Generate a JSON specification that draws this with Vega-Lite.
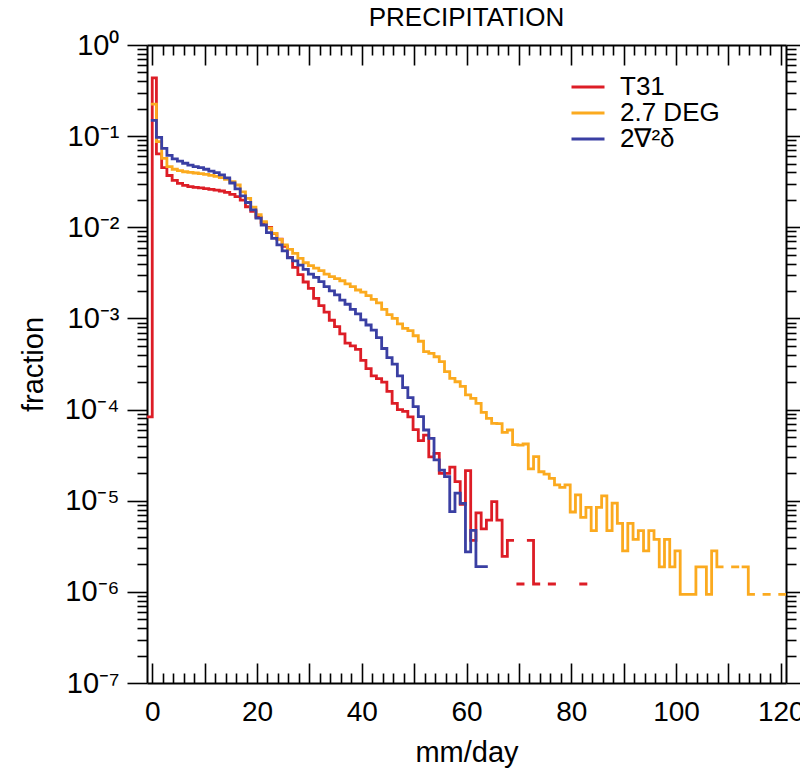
{
  "$schema": "https://vega.github.io/schema/vega-lite/v6.json",
  "width": 639,
  "height": 638,
  "autosize": {"type": "none"},
  "padding": {"left": 147, "top": 45, "right": 14, "bottom": 85},
  "background": "white",
  "title": {"text": "PRECIPITATION", "fontSize": 26, "font": "Liberation Sans", "fontWeight": "normal", "anchor": "middle", "baseline": "alphabetic", "offset": -21, "color": "black"},
  "config": {
    "view": {"stroke": null},
    "font": "Liberation Sans",
    "axis": {"domainColor": "black", "tickColor": "black", "labelColor": "black", "titleColor": "black", "grid": false, "labelFont": "Liberation Sans", "titleFont": "Liberation Sans", "labelFontSize": 28, "titleFontSize": 29, "titleFontWeight": "normal", "domainWidth": 2, "tickWidth": 1.6, "labelOverlap": false, "labelFlush": false}
  },
  "data": {"values": [
    {"series":"T31","x":-1,"y":8.32e-5},{"series":"T31","x":0,"y":0.436},{"series":"T31","x":0.8,"y":0.0638},{"series":"T31","x":1.8,"y":0.0452},{"series":"T31","x":2.8,"y":0.037},{"series":"T31","x":3.8,"y":0.0327},{"series":"T31","x":4.8,"y":0.0303},{"series":"T31","x":5.8,"y":0.0288},{"series":"T31","x":6.8,"y":0.0279},{"series":"T31","x":7.8,"y":0.0274},{"series":"T31","x":8.8,"y":0.027},{"series":"T31","x":9.8,"y":0.0265},{"series":"T31","x":10.8,"y":0.0261},{"series":"T31","x":11.8,"y":0.0256},{"series":"T31","x":12.8,"y":0.025},{"series":"T31","x":13.8,"y":0.0242},{"series":"T31","x":14.8,"y":0.023},{"series":"T31","x":15.8,"y":0.0217},{"series":"T31","x":16.8,"y":0.0199},{"series":"T31","x":17.8,"y":0.0168},{"series":"T31","x":18.8,"y":0.015},{"series":"T31","x":19.8,"y":0.0129},{"series":"T31","x":20.8,"y":0.0112},{"series":"T31","x":21.8,"y":0.01},{"series":"T31","x":22.8,"y":0.00851},{"series":"T31","x":23.8,"y":0.00741},{"series":"T31","x":24.8,"y":0.00617},{"series":"T31","x":25.8,"y":0.00468},{"series":"T31","x":26.8,"y":0.00363},{"series":"T31","x":27.8,"y":0.00302},{"series":"T31","x":28.8,"y":0.00251},{"series":"T31","x":29.8,"y":0.00214},{"series":"T31","x":30.8,"y":0.00166},{"series":"T31","x":31.8,"y":0.00138},{"series":"T31","x":32.8,"y":0.00117},{"series":"T31","x":33.8,"y":0.000955},{"series":"T31","x":34.8,"y":0.000813},{"series":"T31","x":35.8,"y":0.000676},{"series":"T31","x":36.8,"y":0.000537},{"series":"T31","x":37.8,"y":0.000501},{"series":"T31","x":38.8,"y":0.000457},{"series":"T31","x":39.8,"y":0.000347},{"series":"T31","x":40.8,"y":0.000282},{"series":"T31","x":41.8,"y":0.000234},{"series":"T31","x":42.8,"y":0.000219},{"series":"T31","x":43.8,"y":0.0002},{"series":"T31","x":44.8,"y":0.000158},{"series":"T31","x":45.8,"y":0.000117},{"series":"T31","x":46.8,"y":0.0001},{"series":"T31","x":47.8,"y":9.55e-5},{"series":"T31","x":48.8,"y":8.32e-5},{"series":"T31","x":49.8,"y":6.03e-5},{"series":"T31","x":50.8,"y":4.57e-5},{"series":"T31","x":51.8,"y":5.25e-5},{"series":"T31","x":52.8,"y":3.02e-5},{"series":"T31","x":53.8,"y":3.31e-5},{"series":"T31","x":54.8,"y":2.0e-5},{"series":"T31","x":55.8,"y":2.0e-5},{"series":"T31","x":56.8,"y":2.34e-5},{"series":"T31","x":57.8,"y":1.62e-5},{"series":"T31","x":58.8,"y":9.12e-6},{"series":"T31","x":59.8,"y":2.14e-5},{"series":"T31","x":60.8,"y":3.67e-6},{"series":"T31","x":61.8,"y":7.34e-6},{"series":"T31","x":62.8,"y":4.9e-6},{"series":"T31","x":63.8,"y":6.12e-6},{"series":"T31","x":64.8,"y":9.79e-6},{"series":"T31","x":65.8,"y":6.12e-6},{"series":"T31","x":66.8,"y":2.45e-6},{"series":"T31","x":67.8,"y":3.67e-6},{"series":"T31","x":68.8,"y":3.67e-6},{"series":"T31","x":69.3,"y":null},{"series":"T31","x":69.8,"y":1.22e-6},{"series":"T31","x":70.8,"y":1.22e-6},{"series":"T31","x":71.3,"y":null},{"series":"T31","x":71.8,"y":3.67e-6},{"series":"T31","x":72.8,"y":1.22e-6},{"series":"T31","x":73.8,"y":1.22e-6},{"series":"T31","x":74.3,"y":null},{"series":"T31","x":75.8,"y":1.22e-6},{"series":"T31","x":76.8,"y":1.22e-6},{"series":"T31","x":77.3,"y":null},{"series":"T31","x":81.8,"y":1.22e-6},{"series":"T31","x":82.8,"y":1.22e-6},
    {"series":"2.7 DEG","x":0,"y":0.225},{"series":"2.7 DEG","x":0.8,"y":0.0869},{"series":"2.7 DEG","x":1.8,"y":0.0571},{"series":"2.7 DEG","x":2.8,"y":0.0462},{"series":"2.7 DEG","x":3.8,"y":0.0433},{"series":"2.7 DEG","x":4.8,"y":0.0418},{"series":"2.7 DEG","x":5.8,"y":0.0407},{"series":"2.7 DEG","x":6.8,"y":0.0401},{"series":"2.7 DEG","x":7.8,"y":0.0394},{"series":"2.7 DEG","x":8.8,"y":0.0387},{"series":"2.7 DEG","x":9.8,"y":0.0381},{"series":"2.7 DEG","x":10.8,"y":0.0372},{"series":"2.7 DEG","x":11.8,"y":0.0362},{"series":"2.7 DEG","x":12.8,"y":0.035},{"series":"2.7 DEG","x":13.8,"y":0.0336},{"series":"2.7 DEG","x":14.8,"y":0.0316},{"series":"2.7 DEG","x":15.8,"y":0.0291},{"series":"2.7 DEG","x":16.8,"y":0.0245},{"series":"2.7 DEG","x":17.8,"y":0.0208},{"series":"2.7 DEG","x":18.8,"y":0.0166},{"series":"2.7 DEG","x":19.8,"y":0.0138},{"series":"2.7 DEG","x":20.8,"y":0.0115},{"series":"2.7 DEG","x":21.8,"y":0.00977},{"series":"2.7 DEG","x":22.8,"y":0.00857},{"series":"2.7 DEG","x":23.8,"y":0.00736},{"series":"2.7 DEG","x":24.8,"y":0.0064},{"series":"2.7 DEG","x":25.8,"y":0.00573},{"series":"2.7 DEG","x":26.8,"y":0.00518},{"series":"2.7 DEG","x":27.8,"y":0.00457},{"series":"2.7 DEG","x":28.8,"y":0.00408},{"series":"2.7 DEG","x":29.8,"y":0.00379},{"series":"2.7 DEG","x":30.8,"y":0.00357},{"series":"2.7 DEG","x":31.8,"y":0.00334},{"series":"2.7 DEG","x":32.8,"y":0.00307},{"series":"2.7 DEG","x":33.8,"y":0.00287},{"series":"2.7 DEG","x":34.8,"y":0.00273},{"series":"2.7 DEG","x":35.8,"y":0.00259},{"series":"2.7 DEG","x":36.8,"y":0.00239},{"series":"2.7 DEG","x":37.8,"y":0.00223},{"series":"2.7 DEG","x":38.8,"y":0.00205},{"series":"2.7 DEG","x":39.8,"y":0.00194},{"series":"2.7 DEG","x":40.8,"y":0.00178},{"series":"2.7 DEG","x":41.8,"y":0.00162},{"series":"2.7 DEG","x":42.8,"y":0.00148},{"series":"2.7 DEG","x":43.8,"y":0.00126},{"series":"2.7 DEG","x":44.8,"y":0.0011},{"series":"2.7 DEG","x":45.8,"y":0.001},{"series":"2.7 DEG","x":46.8,"y":0.000871},{"series":"2.7 DEG","x":47.8,"y":0.000776},{"series":"2.7 DEG","x":48.8,"y":0.000733},{"series":"2.7 DEG","x":49.8,"y":0.000646},{"series":"2.7 DEG","x":50.8,"y":0.000562},{"series":"2.7 DEG","x":51.8,"y":0.000432},{"series":"2.7 DEG","x":52.8,"y":0.000414},{"series":"2.7 DEG","x":53.8,"y":0.00038},{"series":"2.7 DEG","x":54.8,"y":0.000335},{"series":"2.7 DEG","x":55.8,"y":0.000261},{"series":"2.7 DEG","x":56.8,"y":0.00022},{"series":"2.7 DEG","x":57.8,"y":0.000202},{"series":"2.7 DEG","x":58.8,"y":0.00018},{"series":"2.7 DEG","x":59.8,"y":0.000145},{"series":"2.7 DEG","x":60.8,"y":0.000133},{"series":"2.7 DEG","x":61.8,"y":0.000117},{"series":"2.7 DEG","x":62.8,"y":9.33e-5},{"series":"2.7 DEG","x":63.8,"y":8.02e-5},{"series":"2.7 DEG","x":64.8,"y":7.06e-5},{"series":"2.7 DEG","x":65.8,"y":7.0e-5},{"series":"2.7 DEG","x":66.8,"y":5.62e-5},{"series":"2.7 DEG","x":67.8,"y":5.97e-5},{"series":"2.7 DEG","x":68.8,"y":4.12e-5},{"series":"2.7 DEG","x":69.8,"y":4.08e-5},{"series":"2.7 DEG","x":70.8,"y":4.19e-5},{"series":"2.7 DEG","x":71.8,"y":2.24e-5},{"series":"2.7 DEG","x":72.8,"y":3.05e-5},{"series":"2.7 DEG","x":73.8,"y":2.08e-5},{"series":"2.7 DEG","x":74.8,"y":1.96e-5},{"series":"2.7 DEG","x":75.8,"y":1.76e-5},{"series":"2.7 DEG","x":76.8,"y":1.49e-5},{"series":"2.7 DEG","x":77.8,"y":1.4e-5},{"series":"2.7 DEG","x":78.8,"y":1.49e-5},{"series":"2.7 DEG","x":79.8,"y":7.52e-6},{"series":"2.7 DEG","x":80.8,"y":1.16e-5},{"series":"2.7 DEG","x":81.8,"y":6.58e-6},{"series":"2.7 DEG","x":82.8,"y":8.46e-6},{"series":"2.7 DEG","x":83.8,"y":4.7e-6},{"series":"2.7 DEG","x":84.8,"y":8.46e-6},{"series":"2.7 DEG","x":85.8,"y":1.13e-5},{"series":"2.7 DEG","x":86.8,"y":4.7e-6},{"series":"2.7 DEG","x":87.8,"y":9.4e-6},{"series":"2.7 DEG","x":88.8,"y":5.64e-6},{"series":"2.7 DEG","x":89.8,"y":2.82e-6},{"series":"2.7 DEG","x":90.8,"y":5.64e-6},{"series":"2.7 DEG","x":91.8,"y":3.76e-6},{"series":"2.7 DEG","x":92.8,"y":4.7e-6},{"series":"2.7 DEG","x":93.8,"y":2.82e-6},{"series":"2.7 DEG","x":94.8,"y":4.7e-6},{"series":"2.7 DEG","x":95.8,"y":3.76e-6},{"series":"2.7 DEG","x":96.8,"y":1.88e-6},{"series":"2.7 DEG","x":97.8,"y":3.76e-6},{"series":"2.7 DEG","x":98.8,"y":1.88e-6},{"series":"2.7 DEG","x":99.8,"y":2.82e-6},{"series":"2.7 DEG","x":100.8,"y":9.4e-7},{"series":"2.7 DEG","x":101.8,"y":9.4e-7},{"series":"2.7 DEG","x":102.8,"y":9.4e-7},{"series":"2.7 DEG","x":103.8,"y":1.88e-6},{"series":"2.7 DEG","x":104.8,"y":1.88e-6},{"series":"2.7 DEG","x":105.8,"y":9.4e-7},{"series":"2.7 DEG","x":106.8,"y":2.82e-6},{"series":"2.7 DEG","x":107.8,"y":1.88e-6},{"series":"2.7 DEG","x":108.8,"y":1.88e-6},{"series":"2.7 DEG","x":109.3,"y":null},{"series":"2.7 DEG","x":110.8,"y":1.88e-6},{"series":"2.7 DEG","x":111.8,"y":1.88e-6},{"series":"2.7 DEG","x":112.3,"y":null},{"series":"2.7 DEG","x":112.8,"y":1.88e-6},{"series":"2.7 DEG","x":113.8,"y":9.4e-7},{"series":"2.7 DEG","x":114.8,"y":9.4e-7},{"series":"2.7 DEG","x":115.3,"y":null},{"series":"2.7 DEG","x":116.8,"y":9.4e-7},{"series":"2.7 DEG","x":117.8,"y":9.4e-7},{"series":"2.7 DEG","x":118.3,"y":null},{"series":"2.7 DEG","x":119.8,"y":9.4e-7},{"series":"2.7 DEG","x":120.8,"y":9.4e-7},
    {"series":"2∇²δ","x":0,"y":0.149},{"series":"2∇²δ","x":0.8,"y":0.097},{"series":"2∇²δ","x":1.8,"y":0.0735},{"series":"2∇²δ","x":2.8,"y":0.0614},{"series":"2∇²δ","x":3.8,"y":0.0562},{"series":"2∇²δ","x":4.8,"y":0.0533},{"series":"2∇²δ","x":5.8,"y":0.0504},{"series":"2∇²δ","x":6.8,"y":0.0482},{"series":"2∇²δ","x":7.8,"y":0.0462},{"series":"2∇²δ","x":8.8,"y":0.0451},{"series":"2∇²δ","x":9.8,"y":0.0433},{"series":"2∇²δ","x":10.8,"y":0.0414},{"series":"2∇²δ","x":11.8,"y":0.0397},{"series":"2∇²δ","x":12.8,"y":0.0375},{"series":"2∇²δ","x":13.8,"y":0.0349},{"series":"2∇²δ","x":14.8,"y":0.0306},{"series":"2∇²δ","x":15.8,"y":0.0264},{"series":"2∇²δ","x":16.8,"y":0.0221},{"series":"2∇²δ","x":17.8,"y":0.0187},{"series":"2∇²δ","x":18.8,"y":0.0155},{"series":"2∇²δ","x":19.8,"y":0.0126},{"series":"2∇²δ","x":20.8,"y":0.0106},{"series":"2∇²δ","x":21.8,"y":0.00873},{"series":"2∇²δ","x":22.8,"y":0.00757},{"series":"2∇²δ","x":23.8,"y":0.0064},{"series":"2∇²δ","x":24.8,"y":0.0055},{"series":"2∇²δ","x":25.8,"y":0.00463},{"series":"2∇²δ","x":26.8,"y":0.00427},{"series":"2∇²δ","x":27.8,"y":0.00385},{"series":"2∇²δ","x":28.8,"y":0.00346},{"series":"2∇²δ","x":29.8,"y":0.00307},{"series":"2∇²δ","x":30.8,"y":0.00282},{"series":"2∇²δ","x":31.8,"y":0.00253},{"series":"2∇²δ","x":32.8,"y":0.00223},{"series":"2∇²δ","x":33.8,"y":0.00201},{"series":"2∇²δ","x":34.8,"y":0.00181},{"series":"2∇²δ","x":35.8,"y":0.00159},{"series":"2∇²δ","x":36.8,"y":0.00143},{"series":"2∇²δ","x":37.8,"y":0.00126},{"series":"2∇²δ","x":38.8,"y":0.00112},{"series":"2∇²δ","x":39.8,"y":0.000962},{"series":"2∇²δ","x":40.8,"y":0.000847},{"series":"2∇²δ","x":41.8,"y":0.000746},{"series":"2∇²δ","x":42.8,"y":0.000617},{"series":"2∇²δ","x":43.8,"y":0.000468},{"series":"2∇²δ","x":44.8,"y":0.000372},{"series":"2∇²δ","x":45.8,"y":0.000316},{"series":"2∇²δ","x":46.8,"y":0.000234},{"series":"2∇²δ","x":47.8,"y":0.000174},{"series":"2∇²δ","x":48.8,"y":0.000135},{"series":"2∇²δ","x":49.8,"y":0.000108},{"series":"2∇²δ","x":50.8,"y":8.36e-5},{"series":"2∇²δ","x":51.8,"y":5.97e-5},{"series":"2∇²δ","x":52.8,"y":4.83e-5},{"series":"2∇²δ","x":53.8,"y":2.8e-5},{"series":"2∇²δ","x":54.8,"y":2.17e-5},{"series":"2∇²δ","x":55.8,"y":1.84e-5},{"series":"2∇²δ","x":56.8,"y":7.59e-6},{"series":"2∇²δ","x":57.8,"y":1.21e-5},{"series":"2∇²δ","x":58.8,"y":9.35e-6},{"series":"2∇²δ","x":59.8,"y":2.75e-6},{"series":"2∇²δ","x":60.8,"y":4.73e-6},{"series":"2∇²δ","x":61.8,"y":1.89e-6},{"series":"2∇²δ","x":62.8,"y":1.89e-6},{"series":"2∇²δ","x":63.8,"y":1.89e-6}
  ]},
  "layer": [
    {
      "transform": [{"filter": "datum.series === 'T31'"}],
      "mark": {"type": "line", "interpolate": "step-after", "strokeWidth": 2.8, "strokeCap": "square", "strokeJoin": "miter", "clip": true},
      "encoding": {
        "x": {"field": "x", "type": "quantitative",
              "scale": {"domain": [-1, 121], "nice": false, "zero": false},
              "axis": {"orient": "bottom", "values": [0,2,4,6,8,10,12,14,16,18,20,22,24,26,28,30,32,34,36,38,40,42,44,46,48,50,52,54,56,58,60,62,64,66,68,70,72,74,76,78,80,82,84,86,88,90,92,94,96,98,100,102,104,106,108,110,112,114,116,118,120],
                       "labels": false, "title": null, "domain": true,
                       "tickSize": {"condition": {"test": "datum.value % 10 === 0", "value": -20}, "value": -10}}},
        "y": {"field": "y", "type": "quantitative",
              "scale": {"type": "log", "domain": [1e-7, 1], "nice": false},
              "axis": {"orient": "left", "values": [1e-7,2e-7,3e-7,4e-7,5e-7,6e-7,7e-7,8e-7,9e-7,1e-6,2e-6,3e-6,4e-6,5e-6,6e-6,7e-6,8e-6,9e-6,1e-5,2e-5,3e-5,4e-5,5e-5,6e-5,7e-5,8e-5,9e-5,1e-4,2e-4,3e-4,4e-4,5e-4,6e-4,7e-4,8e-4,9e-4,0.001,0.002,0.003,0.004,0.005,0.006,0.007,0.008,0.009,0.01,0.02,0.03,0.04,0.05,0.06,0.07,0.08,0.09,0.1,0.2,0.3,0.4,0.5,0.6,0.7,0.8,0.9,1],
                       "tickSize": {"condition": {"test": "abs(log(datum.value)/LN10 - round(log(datum.value)/LN10)) < 0.001", "value": 20}, "value": 10},
                       "labelExpr": "abs(log(datum.value)/LN10 - round(log(datum.value)/LN10)) < 0.001 ? '10' + ['⁰','⁻¹','⁻²','⁻³','⁻⁴','⁻⁵','⁻⁶','⁻⁷'][-round(log(datum.value)/LN10)] : ''",
                       "labelFontSize": 29, "labelPadding": 8, "labelBaseline": "middle", "title": "fraction", "titlePadding": 16}},
        "color": {"field": "series", "type": "nominal",
                  "scale": {"domain": ["T31", "2.7 DEG", "2∇²δ"], "range": ["#dd1d26", "#fbaa1f", "#3a3fa3"]},
                  "legend": {"orient": "none", "legendX": 428, "legendY": 29, "title": null, "symbolType": "M-1.65,0L1.65,0", "symbolSize": 400, "symbolStrokeWidth": 2.8, "labelFontSize": 26, "labelFont": "Liberation Sans", "labelColor": "black", "labelOffset": 19, "rowPadding": -1, "padding": 0,
                             "labelExpr": "datum.label === '2.7 DEG' ? '\u00a02.7 DEG' : datum.label"}}
      }
    },
    {
      "transform": [{"filter": "datum.series === '2.7 DEG'"}],
      "mark": {"type": "line", "interpolate": "step-after", "strokeWidth": 2.8, "strokeCap": "square", "strokeJoin": "miter", "clip": true},
      "encoding": {
        "x": {"field": "x", "type": "quantitative",
              "axis": {"orient": "top", "values": [0,2,4,6,8,10,12,14,16,18,20,22,24,26,28,30,32,34,36,38,40,42,44,46,48,50,52,54,56,58,60,62,64,66,68,70,72,74,76,78,80,82,84,86,88,90,92,94,96,98,100,102,104,106,108,110,112,114,116,118,120],
                       "labels": false, "title": null, "domain": true,
                       "tickSize": {"condition": {"test": "datum.value % 10 === 0", "value": -20}, "value": -10}}},
        "y": {"field": "y", "type": "quantitative",
              "axis": {"orient": "right", "values": [1e-7,2e-7,3e-7,4e-7,5e-7,6e-7,7e-7,8e-7,9e-7,1e-6,2e-6,3e-6,4e-6,5e-6,6e-6,7e-6,8e-6,9e-6,1e-5,2e-5,3e-5,4e-5,5e-5,6e-5,7e-5,8e-5,9e-5,1e-4,2e-4,3e-4,4e-4,5e-4,6e-4,7e-4,8e-4,9e-4,0.001,0.002,0.003,0.004,0.005,0.006,0.007,0.008,0.009,0.01,0.02,0.03,0.04,0.05,0.06,0.07,0.08,0.09,0.1,0.2,0.3,0.4,0.5,0.6,0.7,0.8,0.9,1],
                       "labels": false, "title": null, "domain": true,
                       "tickSize": {"condition": {"test": "abs(log(datum.value)/LN10 - round(log(datum.value)/LN10)) < 0.001", "value": 20}, "value": 10}}},
        "color": {"field": "series", "type": "nominal"}
      }
    },
    {
      "transform": [{"filter": "datum.series === '2∇²δ'"}],
      "mark": {"type": "line", "interpolate": "step-after", "strokeWidth": 2.8, "strokeCap": "square", "strokeJoin": "miter", "clip": true},
      "encoding": {
        "x": {"field": "x", "type": "quantitative",
              "axis": {"orient": "bottom", "values": [0,20,40,60,80,100,120], "ticks": false, "domain": false, "labelPadding": 15, "title": "mm/day", "titlePadding": 12}},
        "y": {"field": "y", "type": "quantitative", "axis": null},
        "color": {"field": "series", "type": "nominal"}
      }
    }
  ],
  "resolve": {"axis": {"x": "independent", "y": "independent"}}
}
